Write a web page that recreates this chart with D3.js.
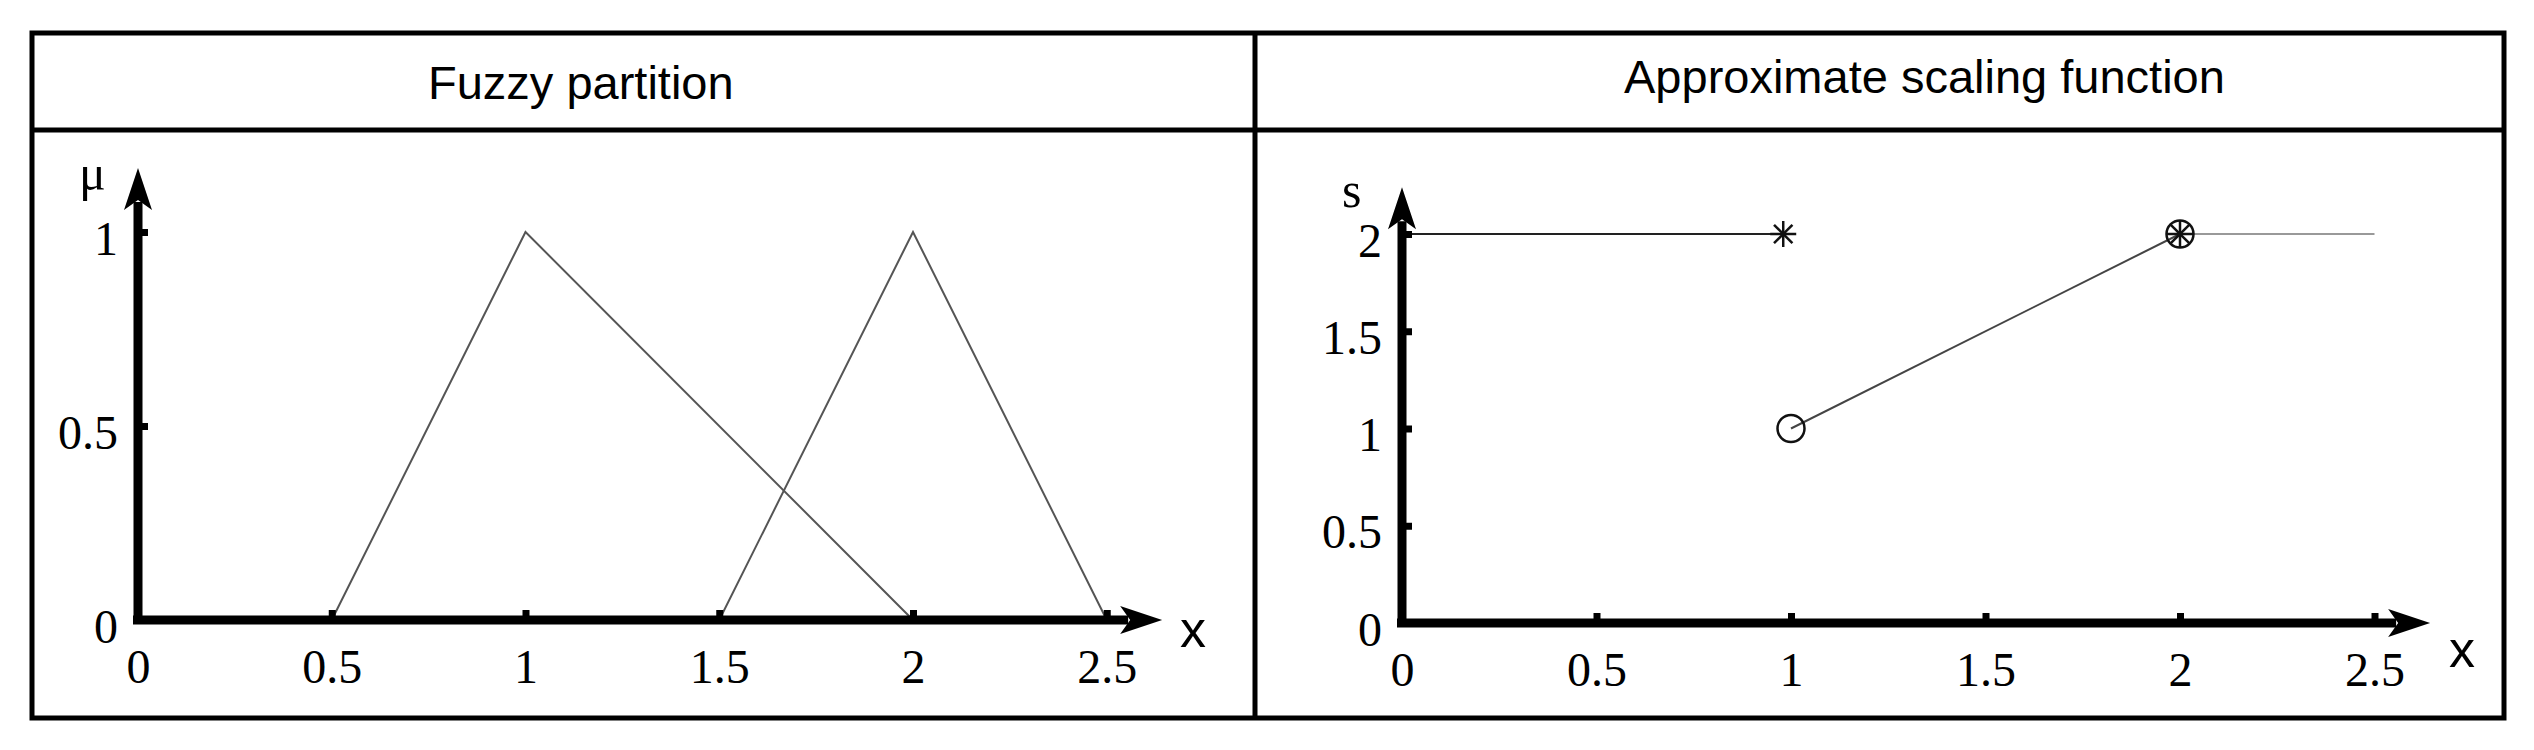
<!DOCTYPE html>
<html>
<head>
<meta charset="utf-8">
<script src="https://cdn.jsdelivr.net/npm/d3@7"></script>
<style>
  body { margin: 0; background: #fff; }
  svg { display: block; }
</style>
</head>
<body>
<svg id="chart" width="2534" height="750"></svg>
<script>
// panel titles
var titles = ['Fuzzy partition', 'Approximate scaling function']

// tick values
var xTicks = [0, 0.5, 1, 1.5, 2, 2.5]
var muTicks = [0, 0.5, 1]
var sTicks = [0, 0.5, 1, 1.5, 2]

// fuzzy partition: two triangular memberships
var triangleA = [[0.5, 0], [1, 1], [2, 0]]
var triangleB = [[1.5, 0], [2, 1], [2.5, 0]]

// approximate scaling function pieces
var sLeft = [[0, 2], [0.98, 2]]
var sRise = [[1, 1], [2, 2]]
var sRight = [[2, 2], [2.5, 2]]
var starPoints = [[0.98, 2], [2, 2]]
var circlePoints = [[1, 1], [2, 2]]

var svg = d3.select('#chart')

// table frame
var frame = svg.append('g')
  .attr('stroke', '#000')
  .attr('stroke-width', 5)
  .attr('fill', 'none')
frame.append('rect').attr('x', 32).attr('y', 33).attr('width', 2472).attr('height', 685)
frame.append('line').attr('x1', 32).attr('x2', 2504).attr('y1', 130).attr('y2', 130)
frame.append('line').attr('x1', 1255).attr('x2', 1255).attr('y1', 33).attr('y2', 718)

svg.append('text')
  .attr('x', 428).attr('y', 99)
  .attr('font-family', 'Liberation Sans, Arial, sans-serif')
  .attr('font-size', 47)
  .text(titles[0])
svg.append('text')
  .attr('x', 1624).attr('y', 93)
  .attr('font-family', 'Liberation Sans, Arial, sans-serif')
  .attr('font-size', 47)
  .text(titles[1])

var serif = 'Liberation Serif, Times New Roman, serif'

function arrowRight (x, y) {
  return 'M' + x + ',' + y + 'L' + (x - 42) + ',' + (y - 14) + 'L' + (x - 32) + ',' + y +
    'L' + (x - 42) + ',' + (y + 14) + 'Z'
}
function arrowUp (x, y) {
  return 'M' + x + ',' + y + 'L' + (x - 14) + ',' + (y + 42) + 'L' + x + ',' + (y + 32) +
    'L' + (x + 14) + ',' + (y + 42) + 'Z'
}

// draws the thick arrowed axes with nub ticks
function drawAxes (g, x, y, yTicks, xEnd, yEnd, yName, xNamePos, yNamePos) {
  var xAxis = d3.axisBottom(x)
    .tickValues(xTicks)
    .tickFormat(d3.format('~g'))
    .tickSizeInner(-10)
    .tickSizeOuter(0)
    .tickPadding(29)
  var yAxis = d3.axisLeft(y)
    .tickValues(yTicks)
    .tickFormat(d3.format('~g'))
    .tickSizeInner(-10)
    .tickSizeOuter(0)
    .tickPadding(20)

  var gx = g.append('g')
    .attr('transform', 'translate(0,' + y(0) + ')')
    .call(xAxis)
  var gy = g.append('g')
    .attr('transform', 'translate(' + x(0) + ',0)')
    .call(yAxis)

  ;[gx, gy].forEach(function (a) {
    a.select('.domain').remove()
    a.selectAll('.tick line').attr('stroke', '#000').attr('stroke-width', 7)
    a.selectAll('.tick text')
      .attr('font-family', serif)
      .attr('font-size', 48)
      .attr('fill', '#000')
  })
  gy.selectAll('.tick text').attr('dy', '0.46em')

  // axis lines
  g.append('line')
    .attr('x1', x(0) - 5).attr('x2', x(xEnd) - 34)
    .attr('y1', y(0)).attr('y2', y(0))
    .attr('stroke', '#000').attr('stroke-width', 9)
  g.append('line')
    .attr('x1', x(0)).attr('x2', x(0))
    .attr('y1', y(0) + 4).attr('y2', y(yEnd) + 34)
    .attr('stroke', '#000').attr('stroke-width', 9)
  g.append('path').attr('d', arrowRight(x(xEnd), y(0))).attr('fill', '#000')
  g.append('path').attr('d', arrowUp(x(0), y(yEnd))).attr('fill', '#000')

  g.append('text')
    .attr('x', xNamePos[0]).attr('y', xNamePos[1])
    .attr('font-family', 'Liberation Sans, Arial, sans-serif')
    .attr('font-size', 52)
    .text('x')
  g.append('text')
    .attr('x', yNamePos[0]).attr('y', yNamePos[1])
    .attr('font-family', serif)
    .attr('font-size', 50)
    .text(yName)
}

var line = function (x, y) {
  return d3.line().x(function (d) { return x(d[0]) }).y(function (d) { return y(d[1]) })
}

// ---- left panel: fuzzy partition
var xL = d3.scaleLinear().domain([0, 1]).range([138, 525.5])
var yL = d3.scaleLinear().domain([0, 1]).range([620, 232])
var left = svg.append('g')

var lineL = line(xL, yL)
left.selectAll('path.tri')
  .data([triangleA, triangleB])
  .join('path')
  .attr('class', 'tri')
  .attr('d', lineL)
  .attr('fill', 'none')
  .attr('stroke', '#555')
  .attr('stroke-width', 2)

drawAxes(left, xL, yL, muTicks, 2.643, 1.165, 'μ', [1180, 647], [79, 190])

// ---- right panel: approximate scaling function
var xR = d3.scaleLinear().domain([0, 1]).range([1402, 1791])
var yR = d3.scaleLinear().domain([0, 2]).range([623, 234])
var right = svg.append('g')

var lineR = line(xR, yR)
right.append('path').attr('d', lineR(sLeft))
  .attr('fill', 'none').attr('stroke', '#222').attr('stroke-width', 2)
right.append('path').attr('d', lineR(sRise))
  .attr('fill', 'none').attr('stroke', '#444').attr('stroke-width', 2)
right.append('path').attr('d', lineR(sRight))
  .attr('fill', 'none').attr('stroke', '#999').attr('stroke-width', 2)

drawAxes(right, xR, yR, sTicks, 2.643, 2.24, 's', [2449, 667], [1342, 207])

right.selectAll('circle.mark')
  .data(circlePoints)
  .join('circle')
  .attr('class', 'mark')
  .attr('cx', function (d) { return xR(d[0]) })
  .attr('cy', function (d) { return yR(d[1]) })
  .attr('r', 13.5)
  .attr('fill', 'none')
  .attr('stroke', '#111')
  .attr('stroke-width', 2.5)

var star = right.selectAll('g.star')
  .data(starPoints)
  .join('g')
  .attr('class', 'star')
  .attr('transform', function (d) { return 'translate(' + xR(d[0]) + ',' + yR(d[1]) + ')' })
star.selectAll('line')
  .data([0, 45, 90, 135])
  .join('line')
  .attr('x1', -13).attr('x2', 13)
  .attr('y1', 0).attr('y2', 0)
  .attr('transform', function (a) { return 'rotate(' + a + ')' })
  .attr('stroke', '#111')
  .attr('stroke-width', 2.5)
</script>
</body>
</html>
